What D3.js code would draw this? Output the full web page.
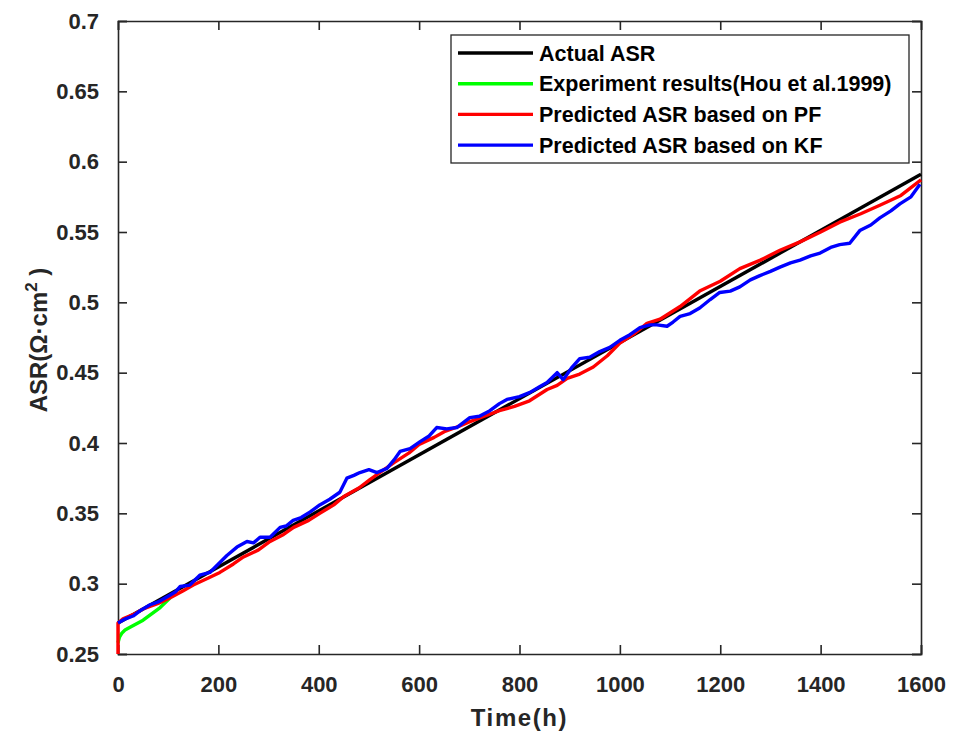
<!DOCTYPE html>
<html>
<head>
<meta charset="utf-8">
<script src="https://cdn.jsdelivr.net/npm/d3@7"></script>
<style>
  body { margin: 0; background: #fff; }
  text { font-family: "Liberation Sans", Arial, sans-serif; font-weight: bold; }
</style>
</head>
<body>
<div class="chart-wrapper"></div>
<script>
// values
const actualTime = [0, 1600]
const actualAsr = [0.272, 0.591]

const expTime = [0, 3, 8, 14, 24, 50, 84, 104]
const expAsr = [0.258, 0.262, 0.265, 0.267, 0.269, 0.274, 0.283, 0.290]

const pfTime = [0, 0, 10, 30, 50, 80, 104, 130, 150, 180, 203, 230, 250, 280, 303, 330, 350, 380, 402, 430, 450, 480, 502, 530, 550, 580, 600, 630, 650, 680, 700, 730, 760, 790, 820, 855, 875, 895, 920, 947, 975, 1000, 1030, 1054, 1080, 1120, 1159, 1200, 1239, 1280, 1319, 1359, 1400, 1438, 1480, 1518, 1560, 1600]
const pfAsr = [0.250, 0.272, 0.275, 0.278, 0.282, 0.286, 0.290, 0.295, 0.299, 0.304, 0.308, 0.314, 0.319, 0.324, 0.330, 0.335, 0.340, 0.345, 0.350, 0.356, 0.362, 0.368, 0.374, 0.381, 0.386, 0.393, 0.399, 0.404, 0.408, 0.412, 0.415, 0.419, 0.423, 0.426, 0.430, 0.438, 0.441, 0.446, 0.449, 0.454, 0.462, 0.471, 0.478, 0.485, 0.488, 0.497, 0.508, 0.515, 0.524, 0.530, 0.537, 0.543, 0.550, 0.557, 0.563, 0.569, 0.576, 0.587]

const kfTime = [0, 15, 30, 45, 64, 80, 104, 114, 124, 143, 163, 183, 203, 217, 237, 257, 270, 283, 303, 323, 335, 349, 365, 383, 402, 422, 442, 456, 470, 482, 500, 516, 536, 550, 562, 582, 602, 620, 635, 655, 675, 701, 720, 741, 760, 775, 800, 821, 840, 855, 875, 887, 905, 920, 940, 960, 980, 1000, 1020, 1040, 1060, 1074, 1094, 1106, 1120, 1140, 1159, 1180, 1199, 1220, 1239, 1260, 1279, 1300, 1319, 1340, 1359, 1380, 1399, 1420, 1438, 1458, 1478, 1500, 1518, 1540, 1558, 1580, 1598]
const kfAsr = [0.272, 0.275, 0.277, 0.281, 0.285, 0.287, 0.292, 0.294, 0.298, 0.299, 0.306, 0.308, 0.315, 0.320, 0.326, 0.330, 0.329, 0.333, 0.333, 0.340, 0.341, 0.345, 0.347, 0.351, 0.356, 0.360, 0.365, 0.375, 0.377, 0.379, 0.381, 0.379, 0.382, 0.388, 0.394, 0.396, 0.401, 0.405, 0.411, 0.410, 0.411, 0.418, 0.419, 0.423, 0.428, 0.431, 0.433, 0.436, 0.440, 0.443, 0.450, 0.445, 0.454, 0.460, 0.461, 0.465, 0.468, 0.473, 0.477, 0.482, 0.484, 0.484, 0.483, 0.486, 0.490, 0.492, 0.496, 0.502, 0.507, 0.508, 0.511, 0.516, 0.519, 0.522, 0.525, 0.528, 0.530, 0.533, 0.535, 0.539, 0.541, 0.542, 0.551, 0.555, 0.560, 0.565, 0.570, 0.575, 0.584]

const seriesNames = ['Actual ASR', 'Experiment results(Hou et al.1999)', 'Predicted ASR based on PF', 'Predicted ASR based on KF']
const seriesColors = ['#000000', '#00ff00', '#ff0000', '#0000ff']

const xTicks = [0, 200, 400, 600, 800, 1000, 1200, 1400, 1600]
const yTicks = [0.25, 0.3, 0.35, 0.4, 0.45, 0.5, 0.55, 0.6, 0.65, 0.7]

const width = 953
const height = 733
const margin = {top: 21, right: 32, bottom: 79, left: 118}

const svg = d3.select('.chart-wrapper')
.append('svg')
.attr('width', width)
.attr('height', height)

let x = d3.scaleLinear().domain([0, 1600]).range([margin.left, width - margin.right])
let y = d3.scaleLinear().domain([0.25, 0.7]).range([height - margin.bottom, margin.top])

const axisColor = '#262626'

// axes, ticks pointing inwards on all four sides
const xAxis = svg.append('g')
.attr('transform', `translate(0,${height - margin.bottom})`)
.call(d3.axisBottom(x).tickValues(xTicks).tickSize(-9).tickPadding(22).tickFormat(d3.format('d')))
const xTop = svg.append('g')
.attr('transform', `translate(0,${margin.top})`)
.call(d3.axisTop(x).tickValues(xTicks).tickSize(-9).tickFormat(''))
const yAxis = svg.append('g')
.attr('transform', `translate(${margin.left},0)`)
.call(d3.axisLeft(y).tickValues(yTicks).tickSize(-9).tickPadding(19).tickFormat(d => d3.format('')(+d.toFixed(2))))
const yRight = svg.append('g')
.attr('transform', `translate(${width - margin.right},0)`)
.call(d3.axisRight(y).tickValues(yTicks).tickSize(-9).tickFormat(''))

svg.selectAll('.domain, .tick line')
.attr('stroke', axisColor)
.attr('stroke-width', 1.6)
svg.selectAll('.tick text')
.attr('fill', axisColor)
.style('font-size', '22px')

const line = d3.line()
.x(d => x(d[0]))
.y(d => y(d[1]))

const series = [
	d3.zip(actualTime, actualAsr),
	d3.zip(expTime, expAsr),
	d3.zip(pfTime, pfAsr),
	d3.zip(kfTime, kfAsr)
]

svg.append('g')
.selectAll('path')
.data(series)
.join('path')
.attr('d', line)
.attr('fill', 'none')
.attr('stroke', (d, i) => seriesColors[i])
.attr('stroke-width', 3.4)
.attr('stroke-linejoin', 'round')

// axis labels
svg.append('text')
.attr('x', x(800))
.attr('y', 726)
.attr('text-anchor', 'middle')
.attr('fill', axisColor)
.style('font-size', '24px')
.style('letter-spacing', '1.6px')
.text('Time(h)')

const yLabel = svg.append('text')
.attr('transform', 'translate(47,340) rotate(-90)')
.attr('text-anchor', 'middle')
.attr('fill', axisColor)
.style('font-size', '24px')
yLabel.append('tspan').text('ASR(Ω·cm')
yLabel.append('tspan').attr('dy', -10).style('font-size', '17px').text('2')
yLabel.append('tspan').attr('dy', 10).text(' )')

// legend
const legend = svg.append('g')
legend.append('rect')
.attr('x', 451)
.attr('y', 35)
.attr('width', 458)
.attr('height', 128)
.attr('fill', '#fff')
.attr('stroke', axisColor)
.attr('stroke-width', 1.3)

const rows = legend.selectAll('g.row')
.data(seriesNames)
.join('g')
.attr('class', 'row')
.attr('transform', (d, i) => `translate(458,${53 + i * 30.7})`)
rows.append('line')
.attr('x1', 0)
.attr('x2', 75)
.attr('stroke', (d, i) => seriesColors[i])
.attr('stroke-width', 3.4)
rows.append('text')
.attr('x', 81)
.attr('dy', '0.35em')
.attr('fill', '#000')
.style('font-size', '21.5px')
.text(d => d)
</script>
</body>
</html>
